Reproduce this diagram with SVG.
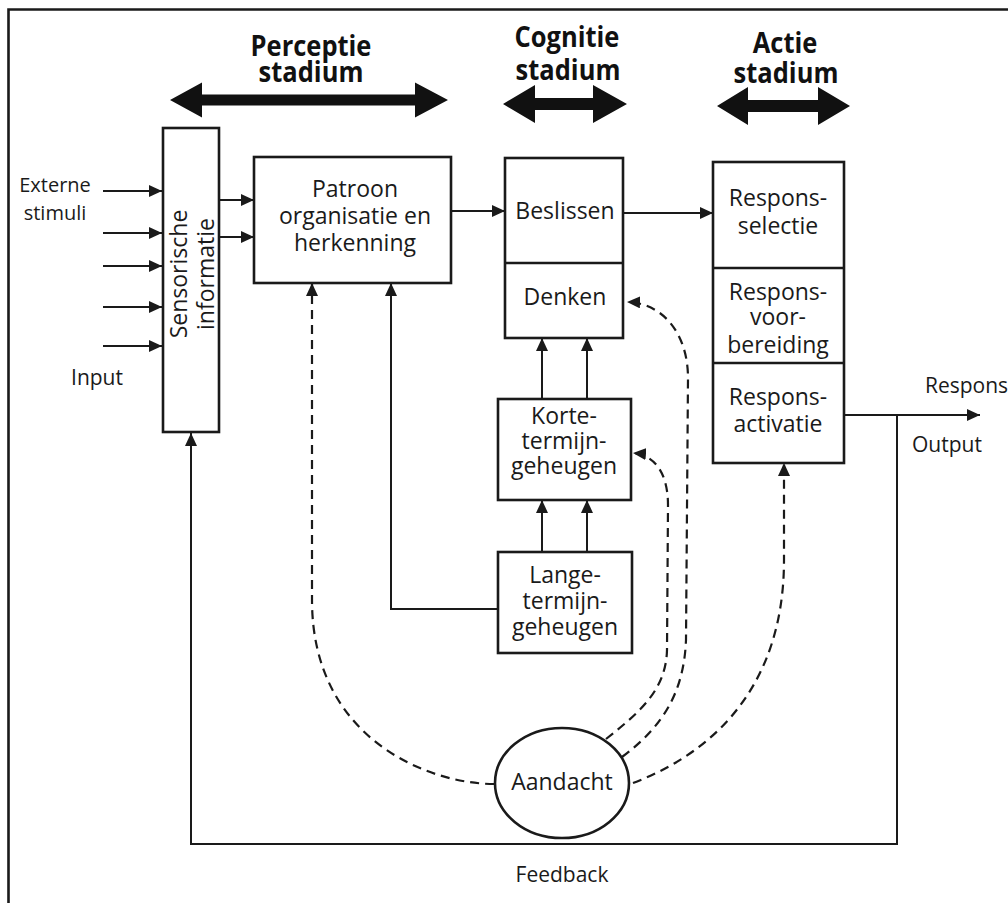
<svg xmlns="http://www.w3.org/2000/svg" width="1008" height="903" viewBox="0 0 1008 903">
  <style>
    .box { fill: #fff; stroke: #1a1a1a; stroke-width: 2.6; }
    .div { fill: none; stroke: #1a1a1a; stroke-width: 2.6; }
    .ln { fill: none; stroke: #1a1a1a; stroke-width: 2; }
    .dash { fill: none; stroke: #1a1a1a; stroke-width: 2.2; stroke-dasharray: 9 6; }
    .t { font-family: "Open Sans", "Noto Sans", "Liberation Sans", sans-serif; font-size: 23px; fill: #1a1a1a; text-anchor: middle; }
    .lbl { font-family: "Open Sans", "Noto Sans", "Liberation Sans", sans-serif; font-size: 21px; fill: #1a1a1a; text-anchor: middle; }
    .hd { font-family: "Open Sans", "Noto Sans", "Liberation Sans", sans-serif; font-size: 25.5px; font-weight: bold; fill: #111; text-anchor: middle; }
    .big { fill: #111; }
  </style>
  <defs>
    <marker id="ah" viewBox="0 0 13 12" refX="13" refY="6" markerWidth="13" markerHeight="12" markerUnits="userSpaceOnUse" orient="auto">
      <path d="M0,0 L13,6 L0,12 Z" fill="#1a1a1a"/>
    </marker>
  </defs>

  <rect width="1008" height="903" fill="#fff"/>

  <!-- frame (left and top edges) -->
  <path d="M8.5,903 L8.5,9.5 L1008,9.5" fill="none" stroke="#1a1a1a" stroke-width="2.6"/>

  <!-- stage headers -->
  <g id="stage-perceptie">
    <g transform="translate(311,56) scale(1,1.15)"><text class="hd" x="0" y="0">Perceptie</text></g>
    <g transform="translate(311,82) scale(1,1.15)"><text class="hd" x="0" y="0">stadium</text></g>
    <path class="big" d="M170,100 L202,82.5 L202,94.5 L415,94.5 L415,82.5 L448,100 L415,117.5 L415,105.5 L202,105.5 L202,117.5 Z"/>
  </g>
  <g id="stage-cognitie">
    <g transform="translate(567,47) scale(1,1.15)"><text class="hd" x="0" y="0">Cognitie</text></g>
    <g transform="translate(568,80) scale(1,1.15)"><text class="hd" x="0" y="0">stadium</text></g>
    <path class="big" d="M503,104 L535,85 L535,98 L593,98 L593,85 L627,104 L593,123 L593,110 L535,110 L535,123 Z"/>
  </g>
  <g id="stage-actie">
    <g transform="translate(785,53) scale(1,1.15)"><text class="hd" x="0" y="0">Actie</text></g>
    <g transform="translate(786,83) scale(1,1.15)"><text class="hd" x="0" y="0">stadium</text></g>
    <path class="big" d="M717,106 L748,87 L748,100 L818,100 L818,87 L850,106 L818,125 L818,112 L748,112 L748,125 Z"/>
  </g>

  <!-- free labels -->
  <g id="labels">
    <text class="lbl" x="55" y="192" style="font-size:20px">Externe</text>
    <text class="lbl" x="55" y="220" style="font-size:20px">stimuli</text>
    <text class="lbl" x="97" y="385">Input</text>
    <text class="lbl" x="925" y="393" style="text-anchor:start">Respons</text>
    <text class="lbl" x="947" y="452">Output</text>
    <text class="lbl" x="562" y="882">Feedback</text>
  </g>

  <!-- connectors -->
  <g id="connectors">
    <!-- external stimuli into sensory information -->
    <path class="ln" d="M103,191 L162,191" marker-end="url(#ah)"/>
    <path class="ln" d="M103,233 L162,233" marker-end="url(#ah)"/>
    <path class="ln" d="M103,266 L162,266" marker-end="url(#ah)"/>
    <path class="ln" d="M103,307 L162,307" marker-end="url(#ah)"/>
    <path class="ln" d="M103,346 L162,346" marker-end="url(#ah)"/>
    <!-- sensory -> pattern recognition -->
    <path class="ln" d="M219,200 L254,200" marker-end="url(#ah)"/>
    <path class="ln" d="M219,237 L254,237" marker-end="url(#ah)"/>
    <!-- pattern recognition -> decide -->
    <path class="ln" d="M451,211 L505,211" marker-end="url(#ah)"/>
    <!-- decide -> response selection -->
    <path class="ln" d="M623,213 L713,213" marker-end="url(#ah)"/>
    <!-- short-term memory -> thinking -->
    <path class="ln" d="M542,399 L542,338" marker-end="url(#ah)"/>
    <path class="ln" d="M587,399 L587,338" marker-end="url(#ah)"/>
    <!-- long-term memory -> short-term memory -->
    <path class="ln" d="M542,552 L542,500" marker-end="url(#ah)"/>
    <path class="ln" d="M587,552 L587,500" marker-end="url(#ah)"/>
    <!-- long-term memory -> pattern recognition -->
    <path class="ln" d="M499,609 L391,609 L391,283" marker-end="url(#ah)"/>
    <!-- response output -->
    <path class="ln" d="M844,415 L980,415" marker-end="url(#ah)"/>
    <!-- feedback loop -->
    <path class="ln" d="M897,415 L897,844 L191,844 L191,433" marker-end="url(#ah)"/>
    <!-- attention links (dashed) -->
    <path class="dash" d="M494,784 C430,784 312,740 312,600 L312,283" marker-end="url(#ah)"/>
    <path class="dash" d="M606,739 C640,712 666,690 667,650 L668,505 C668,475 656,455 633,453" marker-end="url(#ah)"/>
    <path class="dash" d="M622,757 C665,725 684,690 686,640 L688,378 C688,335 664,303 627,302" marker-end="url(#ah)"/>
    <path class="dash" d="M633,783 C720,750 784,680 784,560 L784,463" marker-end="url(#ah)"/>
  </g>

  <!-- nodes -->
  <g id="sensorische-informatie">
    <rect class="box" x="163" y="128" width="56" height="304"/>
    <text class="t" transform="translate(187,274) rotate(-90)">Sensorische</text>
    <text class="t" transform="translate(214,274) rotate(-90)">informatie</text>
  </g>
  <g id="patroonherkenning">
    <rect class="box" x="254" y="157" width="197" height="126"/>
    <text class="t" x="355" y="197">Patroon</text>
    <text class="t" x="355" y="224">organisatie en</text>
    <text class="t" x="355" y="251">herkenning</text>
  </g>
  <g id="beslissen-denken">
    <rect class="box" x="505" y="158" width="118" height="180"/>
    <path class="div" d="M505,263 L623,263"/>
    <text class="t" x="565" y="219">Beslissen</text>
    <text class="t" x="565" y="305">Denken</text>
  </g>
  <g id="kortetermijngeheugen">
    <rect class="box" x="498" y="399" width="133" height="101"/>
    <text class="t" x="564" y="424">Korte-</text>
    <text class="t" x="564" y="449">termijn-</text>
    <text class="t" x="564" y="474">geheugen</text>
  </g>
  <g id="langetermijngeheugen">
    <rect class="box" x="498" y="552" width="134" height="101"/>
    <text class="t" x="565" y="583">Lange-</text>
    <text class="t" x="565" y="609">termijn-</text>
    <text class="t" x="565" y="635">geheugen</text>
  </g>
  <g id="respons">
    <rect class="box" x="713" y="162" width="131" height="301"/>
    <path class="div" d="M713,268 L844,268 M713,363 L844,363"/>
    <text class="t" x="778" y="206">Respons-</text>
    <text class="t" x="778" y="234">selectie</text>
    <text class="t" x="778" y="300">Respons-</text>
    <text class="t" x="778" y="325">voor-</text>
    <text class="t" x="778" y="353">bereiding</text>
    <text class="t" x="778" y="405">Respons-</text>
    <text class="t" x="778" y="432">activatie</text>
  </g>
  <g id="aandacht">
    <ellipse class="box" cx="562" cy="783" rx="67" ry="55"/>
    <text class="t" x="562" y="790">Aandacht</text>
  </g>
</svg>
